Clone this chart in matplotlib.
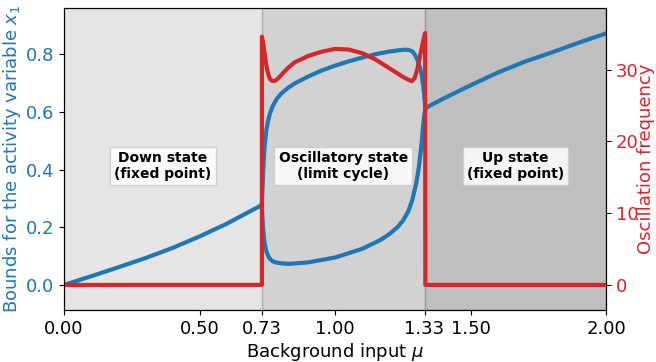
import numpy as np
import matplotlib
matplotlib.use("Agg")
import matplotlib.pyplot as plt

# fixed point branches
mu_down = [0.0, 0.1, 0.2, 0.3, 0.4, 0.5, 0.6, 0.7, 0.73]
x_down = [0.0, 0.030, 0.061, 0.093, 0.128, 0.168, 0.212, 0.262, 0.277]

mu_up = [1.333, 1.4, 1.5, 1.6, 1.7, 1.8, 1.9, 2.0]
x_up = [0.613, 0.646, 0.692, 0.736, 0.774, 0.806, 0.840, 0.872]

# limit cycle: max and min of x1
mu_osc_max = [0.73, 0.732, 0.735, 0.738, 0.742, 0.747, 0.753, 0.76, 0.77, 0.785, 0.8,
              0.825, 0.85, 0.9, 0.95, 1.0, 1.05, 1.1, 1.15, 1.2, 1.25, 1.27, 1.285,
              1.295, 1.305, 1.313, 1.32, 1.327, 1.333]
x_osc_max = [0.277, 0.33, 0.40, 0.455, 0.50, 0.54, 0.57, 0.595, 0.62, 0.645, 0.662,
             0.682, 0.698, 0.722, 0.743, 0.76, 0.775, 0.788, 0.80, 0.809, 0.815, 0.815, 0.81,
             0.797, 0.777, 0.755, 0.725, 0.675, 0.613]

mu_osc_min = [0.73, 0.732, 0.735, 0.738, 0.742, 0.747, 0.753, 0.76, 0.77, 0.785, 0.8,
              0.83, 0.9, 1.0, 1.1, 1.166, 1.2, 1.23, 1.25, 1.27, 1.285, 1.3, 1.31,
              1.318, 1.326, 1.333]
x_osc_min = [0.277, 0.235, 0.19, 0.16, 0.135, 0.115, 0.1, 0.09, 0.082, 0.077, 0.075,
             0.073, 0.078, 0.095, 0.125, 0.155, 0.176, 0.2, 0.222, 0.255, 0.295, 0.355,
             0.415, 0.48, 0.565, 0.613]

# oscillation frequency
mu_freq = [0.0, 0.73, 0.73, 0.735, 0.74, 0.745, 0.75, 0.755, 0.76, 0.767, 0.775, 0.785,
           0.8, 0.825, 0.85, 0.9, 0.95, 1.0, 1.05, 1.1, 1.15, 1.2, 1.25, 1.27, 1.283,
           1.293, 1.303, 1.315, 1.325, 1.332, 1.333, 2.0]
freq = [0.0, 0.0, 34.6, 33.6, 32.2, 30.9, 29.9, 29.2, 28.7, 28.45, 28.4, 28.6,
        29.2, 30.2, 31.0, 31.9, 32.5, 32.9, 32.8, 32.3, 31.4, 30.2, 29.0, 28.6, 28.4,
        28.8, 30.0, 32.2, 34.0, 35.1, 0.0, 0.0]

xticks = [0.0, 0.5, 0.73, 1.0, 1.33, 1.5, 2.0]
regions = [(0.0, 0.73, 0.2), (0.73, 1.33, 0.35), (1.33, 2.0, 0.5)]
labels = ["Down state\n(fixed point)", "Oscillatory state\n(limit cycle)", "Up state\n(fixed point)"]

blue = "#1f77b4"
red = "#d62728"

fig, ax = plt.subplots(figsize=(6.56, 3.62), dpi=100)
fig.subplots_adjust(left=0.0976, right=0.924, top=0.978, bottom=0.1436)

for (a, b, al), lab in zip(regions, labels):
    ax.axvspan(a, b, color="gray", alpha=al, lw=1)
    ax.text((a + b) / 2, 0.412, lab, ha="center", va="center", fontsize=10,
            fontweight="bold", zorder=5,
            bbox=dict(boxstyle="square,pad=0.3", facecolor="white", edgecolor="0.8", alpha=0.85))

# blue bounds
for mx, yv in [(mu_down, x_down), (mu_up, x_up), (mu_osc_max, x_osc_max), (mu_osc_min, x_osc_min)]:
    ax.plot(mx, yv, color=blue, lw=3, solid_capstyle="round")

ax.set_xlim(0, 2)
ax.set_ylim(-0.087, 0.96)
ax.set_xticks(xticks)
ax.set_xticklabels(["%.2f" % t for t in xticks], fontsize=13)
ax.set_yticks([0.0, 0.2, 0.4, 0.6, 0.8])
ax.tick_params(axis="y", labelcolor=blue, labelsize=13)
ax.set_xlabel(r"Background input $\mu$", fontsize=13, labelpad=2)
ax.set_ylabel(r"Bounds for the activity variable $x_1$", color=blue, fontsize=13, labelpad=2)

ax2 = ax.twinx()
ax2.plot(mu_freq, freq, color=red, lw=3)
ax2.set_ylim(-3.5, 38.6)
ax2.set_yticks([0, 10, 20, 30])
ax2.tick_params(axis="y", labelcolor=red, labelsize=13)
ax2.set_ylabel("Oscillation frequency", color=red, fontsize=13, labelpad=-1)

fig.savefig("out.png", dpi=100)
